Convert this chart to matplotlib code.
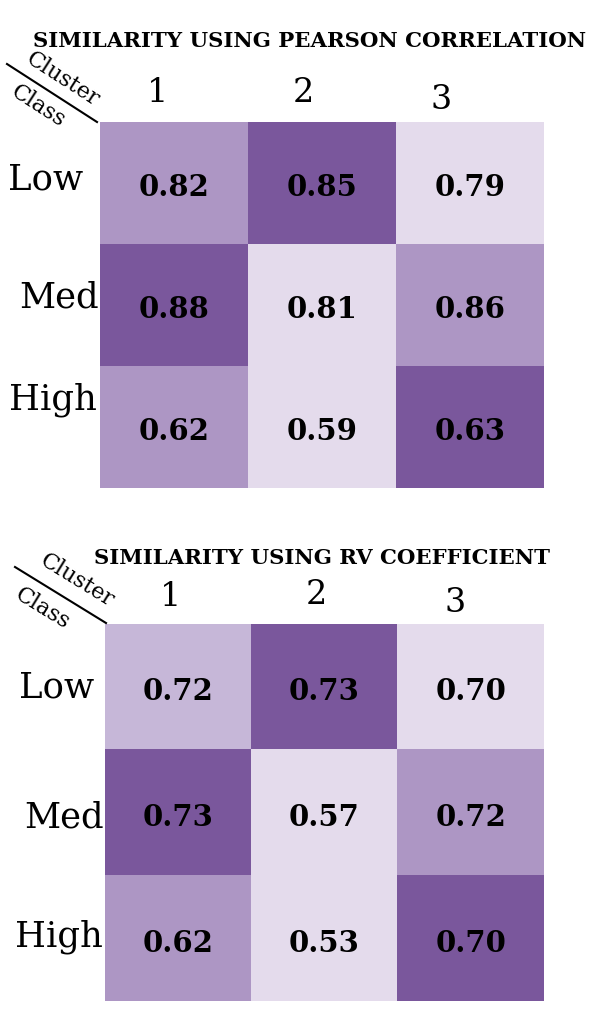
import numpy as np
import matplotlib
matplotlib.use("Agg")
import matplotlib.pyplot as plt
from matplotlib.colors import ListedColormap

plt.rcParams['font.family'] = ['DejaVu Serif']

# données
clusters = ["1", "2", "3"]
classes = ["Low", "Med", "High"]

pearson_title = "SIMILARITY USING PEARSON CORRELATION"
pearson = np.array([[0.82, 0.85, 0.79],
                    [0.88, 0.81, 0.86],
                    [0.62, 0.59, 0.63]])
# niveau de teinte de chaque case (0 = clair, 3 = foncé)
pearson_shade = np.array([[2, 3, 0],
                          [3, 0, 2],
                          [2, 0, 3]])

rv_title = "SIMILARITY USING RV COEFFICIENT"
rv = np.array([[0.72, 0.73, 0.70],
               [0.73, 0.57, 0.72],
               [0.62, 0.53, 0.70]])
rv_shade = np.array([[1, 3, 0],
                     [3, 0, 2],
                     [2, 0, 3]])

cmap = ListedColormap(['#e4dbec', '#c6b7d8', '#ad96c4', '#7a579c'])

W, H = 602, 1027
fig = plt.figure(figsize=(W / 100, H / 100), dpi=100)


def fx(x):
    return x / W


def fy(y):
    return 1 - y / H


def panel(box, values, shade, title, title_xy, col_xy, row_xy, diag, cl_xy, cs_xy):
    left, top, right, bottom = box
    ax = fig.add_axes([fx(left), fy(bottom), fx(right - left), (bottom - top) / H])
    ax.imshow(shade, cmap=cmap, vmin=0, vmax=3, aspect='auto', interpolation='nearest')
    for i in range(values.shape[0]):
        for j in range(values.shape[1]):
            ax.text(j, i + 0.04, f"{values[i, j]:.2f}", ha='center', va='center',
                    fontsize=21, fontweight='bold', color='black')
    ax.set_axis_off()

    fig.text(fx(title_xy[0]), fy(title_xy[1]), title, ha='center', va='center',
             fontsize=15.3, fontweight='bold')
    for lab, (x, y) in zip(clusters, col_xy):
        fig.text(fx(x), fy(y), lab, ha='center', va='center', fontsize=24)
    for lab, (x, y) in zip(classes, row_xy):
        fig.text(fx(x), fy(y), lab, ha='center', va='center', fontsize=25.5)

    (x0, y0), (x1, y1) = diag
    fig.add_artist(plt.Line2D([fx(x0), fx(x1)], [fy(y0), fy(y1)], color='black', lw=1.5))
    ang = -np.degrees(np.arctan2(y1 - y0, x1 - x0))
    fig.text(fx(cl_xy[0]), fy(cl_xy[1]), "Cluster", ha='center', va='center',
             fontsize=16, rotation=ang, rotation_mode='anchor')
    fig.text(fx(cs_xy[0]), fy(cs_xy[1]), "Class", ha='center', va='center',
             fontsize=16, rotation=ang, rotation_mode='anchor')


panel((100, 122, 544, 488), pearson, pearson_shade, pearson_title, (310, 41),
      [(158, 93), (303, 93), (441, 100)],
      [(46, 180), (59, 297), (53, 400)],
      ((7, 64), (97, 122)), (63, 79), (38, 106))

panel((105, 624, 544, 1001), rv, rv_shade, rv_title, (322, 558),
      [(171, 597), (316, 595), (455, 603)],
      [(57, 687), (64, 817), (59, 937)],
      ((15, 567), (106, 623)), (77, 581), (42, 609))

fig.savefig("out.png", dpi=100)
